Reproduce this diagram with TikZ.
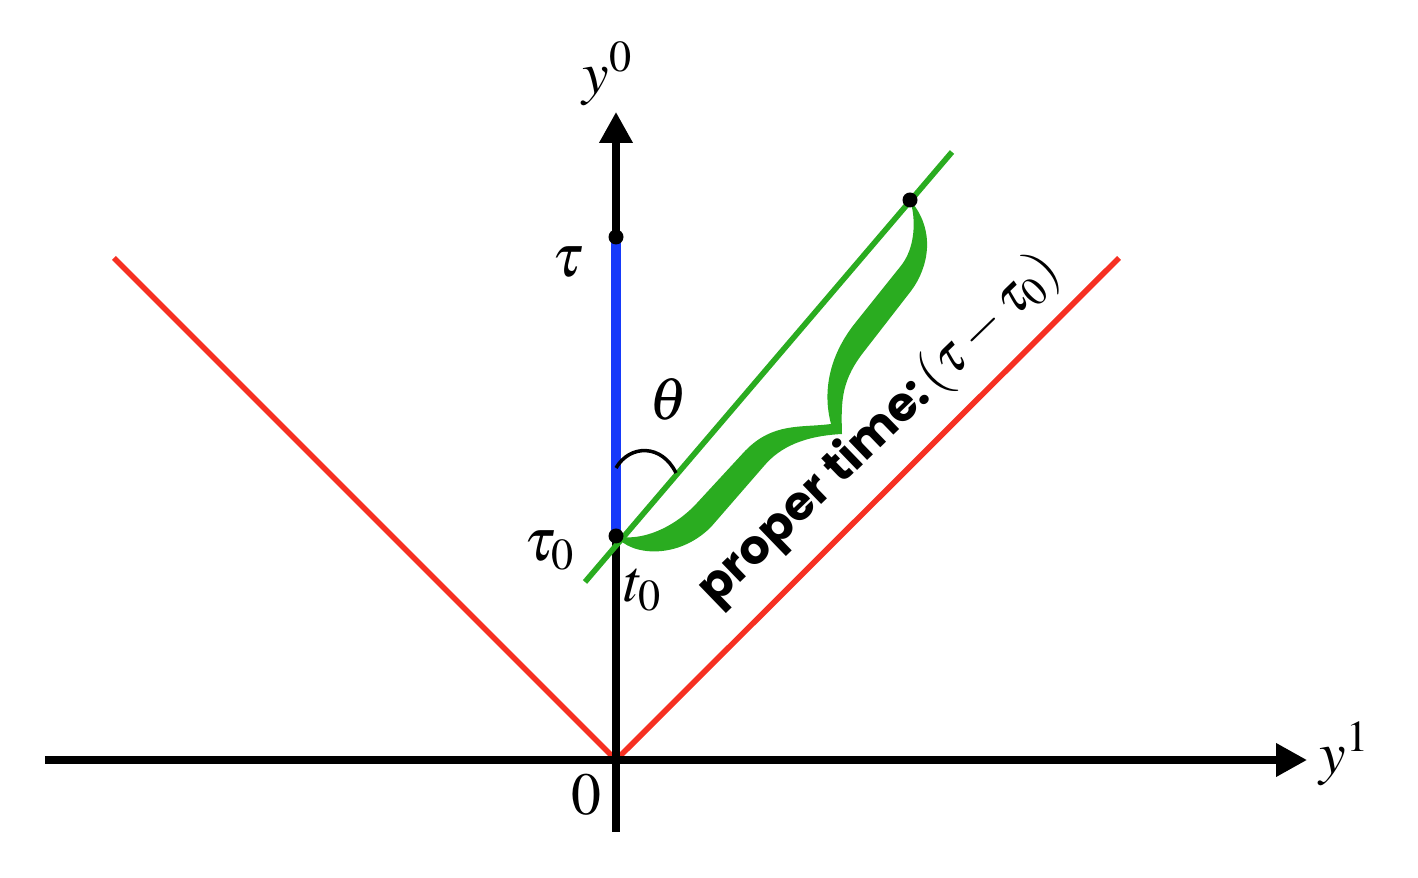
\documentclass[tikz,border=0pt]{standalone}
\usepackage{mathptmx}
\usepackage[no-math]{fontspec}
\newfontfamily\propfont{Poppins}
\usetikzlibrary{arrows.meta,calc}
\definecolor{WLGreen}{RGB}{42,172,32}
\definecolor{ConeRed}{RGB}{246,48,34}
\definecolor{TauBlue}{RGB}{22,58,250}

\begin{document}
\begin{tikzpicture}[
    axis/.style={line width=2pt, -{Triangle[length=3.1mm,width=3.2mm]}},
    cone/.style={ConeRed, line width=1.6pt},
    world/.style={WLGreen, line width=1.6pt},
    event/.style={circle, fill=black, inner sep=0pt, minimum size=1.5mm},
    lbl/.style={font=\fontsize{17}{20}\selectfont, inner sep=0pt}
]
    \useasboundingbox (-6.16,-1.18) rectangle (8.02,7.60);

    % Points
    \coordinate (O) at (0,0);
    \coordinate (tau0) at (0,2.24);
    \coordinate (tau) at (0,5.23);
    \coordinate (P) at (2.94,5.60);
    \coordinate (xL) at (-5.71,0);
    \coordinate (xR) at (6.91,0);
    \coordinate (yB) at (0,-0.72);
    \coordinate (yT) at (0,6.48);
    \coordinate (rL) at (-5.02,5.02);
    \coordinate (rR) at (5.03,5.02);
    \coordinate (gA) at (-0.31,1.78);
    \coordinate (gB) at (3.36,6.08);
    \coordinate (arcA) at (0,2.92);
    \coordinate (arcB) at (0.60,2.87);

    % Light cone
    \draw[cone] (O) -- (rL);
    \draw[cone] (O) -- (rR);

    % Axes
    \draw[axis] (xL) -- (xR);
    \draw[axis] (yB) -- (yT);

    % Interval on the time axis
    \draw[TauBlue, line width=2.8pt] (tau0) -- (tau);

    % World line
    \draw[world] (gA) -- (gB);

    % Brace
    \fill[WLGreen] (tau0) .. controls (0.15,2.04) and (0.62,2.00) .. (0.95,2.33)
        -- (1.48,2.94) .. controls (1.64,3.13) and (1.88,3.24) .. (2.26,3.26)
        .. controls (2.25,3.60) and (2.25,3.80) .. (2.50,4.11)
        -- (2.95,4.69) .. controls (3.13,4.93) and (3.20,5.30) .. (P)
        .. controls (3.00,5.42) and (3.00,5.12) .. (2.84,4.93)
        -- (2.40,4.38) .. controls (2.14,4.06) and (2.06,3.70) .. (2.15,3.36)
        .. controls (1.85,3.32) and (1.57,3.38) .. (1.29,3.09)
        -- (0.81,2.57) .. controls (0.58,2.32) and (0.25,2.18) .. (tau0) -- cycle;

    % Angle
    \draw[line width=1pt] (arcA) .. controls (0.14,3.16) and (0.46,3.16) .. (arcB);

    % Events
    \node[event] (ev-tau) at (tau) {};
    \node[event] (ev-tau0) at (tau0) {};
    \node[event] (ev-P) at (P) {};

    % Labels
    \node[lbl] (lab-y0) at (-0.08,6.86) {$y^0$};
    \node[lbl] (lab-y1) at (7.29,0.06) {$y^1$};
    \node[lbl] (lab-0) at (-0.30,-0.35) {$0$};
    \node[lbl] (lab-tau) at (-0.48,4.98) {$\tau$};
    \node[lbl] (lab-tau0) at (-0.66,2.09) {$\tau_0$};
    \node[lbl] (lab-t0) at (0.27,1.70) {$t_0$};
    \node[lbl] (lab-theta) at (0.52,3.61) {$\theta$};
    \node[inner sep=0pt, rotate=44] (lab-proper) at (2.63,3.30)
        {{\propfont\bfseries\fontsize{13.5}{16}\selectfont proper time:}\,{\fontsize{15.5}{18}\selectfont$(\tau-\tau_0)$}};
\end{tikzpicture}
\end{document}
